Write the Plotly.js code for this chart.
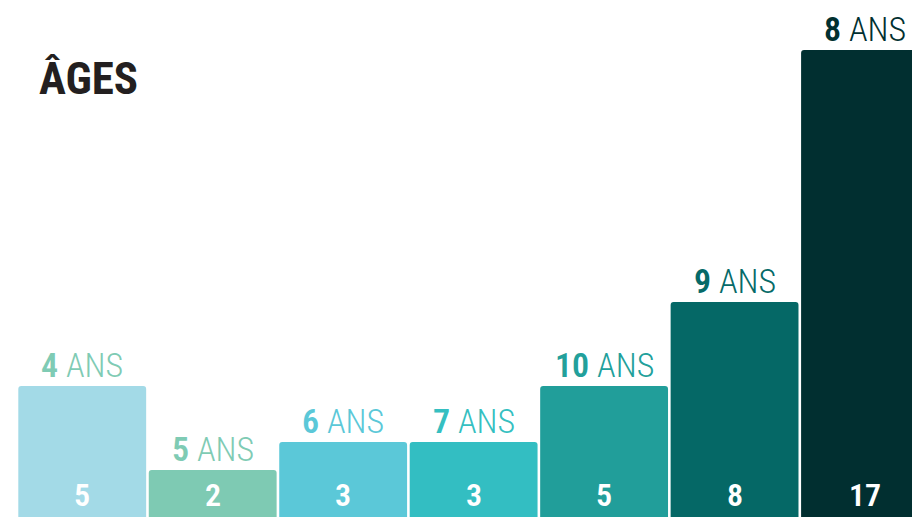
<!DOCTYPE html>
<html><head><meta charset="utf-8">
<script src="https://cdn.plot.ly/plotly-3.0.1.min.js"></script>
<style>html,body{margin:0;padding:0;background:#fff;overflow:hidden}#chart{width:912px;height:517px}</style>
</head><body><div id="chart"></div>
<script>
const categories = ['4', '5', '6', '7', '10', '9', '8'];
const counts = [5, 2, 3, 3, 5, 8, 17];
const unitLabel = 'ANS';
const titleText = 'ÂGES';
const barColors = ['#A3DAE7', '#7ECAB3', '#5BC8D8', '#33BEC2', '#219E9A', '#056866', '#012F30'];
const labelColors = ['#7FCBB4', '#7FCBB4', '#5BC8D8', '#35BFC1', '#22A09B', '#066A68', '#013030'];

const FONT = '"Roboto Condensed", "Roboto", sans-serif';
const xs = categories.map((c, i) => i);

const trace = {
  type: 'bar',
  x: xs,
  y: counts,
  width: 0.98,
  marker: {color: barColors, cornerradius: 3, line: {width: 0}},
  hoverinfo: 'skip'
};

const annotations = [];
xs.forEach((x, i) => {
  annotations.push({
    x: x, y: counts[i], xref: 'x', yref: 'y',
    yanchor: 'bottom', yshift: -1,
    text: '<span style="font-weight:600">' + categories[i] + '</span> <span style="font-weight:300">' + unitLabel + '</span>',
    showarrow: false,
    font: {family: FONT, size: 34, color: labelColors[i]}
  });
  annotations.push({
    x: x, y: 0, xref: 'x', yref: 'paper',
    yanchor: 'bottom', yshift: 1,
    text: String(counts[i]),
    showarrow: false,
    font: {family: FONT, size: 32, weight: 600, color: '#FFFFFF'}
  });
});

const layout = {
  width: 912, height: 517,
  margin: {l: 17, r: 0, t: 0, b: 0, pad: 0},
  paper_bgcolor: '#FFFFFF', plot_bgcolor: '#FFFFFF',
  showlegend: false,
  title: {
    text: '<b>' + titleText + '</b>',
    x: 39 / 912, xanchor: 'left', xref: 'container',
    y: 1 - 78 / 517, yanchor: 'middle', yref: 'container',
    font: {family: FONT, size: 45, color: '#231F20'}
  },
  xaxis: {range: [-0.5, 6.36], visible: false, fixedrange: true},
  yaxis: {range: [0.32, 18.79], visible: false, fixedrange: true},
  annotations: annotations
};

Plotly.newPlot('chart', [trace], layout, {displayModeBar: false, staticPlot: true});
</script></body></html>
